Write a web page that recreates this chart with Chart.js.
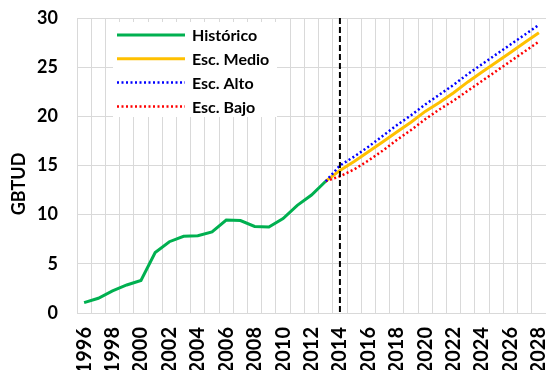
<!DOCTYPE html>
<html>
<head>
<meta charset="utf-8">
<script src="https://cdn.jsdelivr.net/npm/chart.js@4"></script>
<style>
  html, body { margin: 0; padding: 0; background: #fff; }
  #wrap { width: 546px; height: 370px; }
</style>
</head>
<body>
<div id="wrap"><canvas id="chart" width="546" height="370"></canvas></div>
<script>
// years on the category axis
const years = [];
for (let y = 1996; y <= 2028; y++) years.push(String(y));

// GBTUD
const historico = [1.05, 1.5, 2.25, 2.85, 3.3, 6.15, 7.25, 7.8, 7.85, 8.25, 9.45, 9.4, 8.8, 8.75, 9.6, 10.95, 12.0, 13.4];
const escMedio = [13.4, 14.5, 15.4, 16.4, 17.4, 18.4, 19.4, 20.5, 21.4, 22.4, 23.5, 24.5, 25.5, 26.5, 27.5, 28.5];
const escAlto  = [13.4, 15.0, 15.9, 16.9, 18.0, 19.1, 20.1, 21.2, 22.2, 23.2, 24.3, 25.3, 26.3, 27.3, 28.3, 29.3];
const escBajo  = [13.4, 13.9, 14.6, 15.5, 16.5, 17.6, 18.6, 19.7, 20.7, 21.6, 22.6, 23.6, 24.6, 25.6, 26.6, 27.6];
const yTicks = [0, 5, 10, 15, 20, 25, 30];
const markerYear = "2014";
const yTitle = "GBTUD";

// pad scenario series with nulls before 2013
function fromYear(start, vals) {
  const out = years.map(() => null);
  const i0 = years.indexOf(String(start));
  vals.forEach((v, i) => { out[i0 + i] = v; });
  return out;
}

const FONT = "Lato, 'Open Sans', sans-serif";

const legendItems = [
  { label: "Histórico", color: "#00B050", dash: [] , width: 3 },
  { label: "Esc. Medio", color: "#FFC000", dash: [], width: 3 },
  { label: "Esc. Alto", color: "#0000FF", dash: [2, 2.5], width: 2.5 },
  { label: "Esc. Bajo", color: "#FF0000", dash: [2, 2.5], width: 2.5 },
];

// no automatic padding, the plot area is fixed by hand
function noPad(scale) {
  scale.paddingTop = 0;
  scale.paddingBottom = 0;
  scale.paddingLeft = 0;
  scale.paddingRight = 0;
}

// dashed vertical line at 2014, axis title, in-plot legend box
const extras = {
  id: "extras",
  afterDatasetsDraw(chart) {
    const ctx = chart.ctx;
    const area = chart.chartArea;
    const x = chart.scales.x.getPixelForValue(years.indexOf(markerYear));
    ctx.save();
    ctx.strokeStyle = "#000";
    ctx.lineWidth = 2;
    ctx.setLineDash([6, 3]);
    ctx.beginPath();
    ctx.moveTo(x, area.top);
    ctx.lineTo(x, area.bottom);
    ctx.stroke();
    ctx.restore();
  },
  afterDraw(chart) {
    const ctx = chart.ctx;
    ctx.save();
    // y title sits a bit below the middle, as in the original
    ctx.translate(19, 184);
    ctx.rotate(-Math.PI / 2);
    ctx.font = "bold 18px " + FONT;
    ctx.fillStyle = "#000";
    ctx.textAlign = "center";
    ctx.textBaseline = "middle";
    ctx.fillText(yTitle, 0, 0);
    ctx.restore();

    ctx.save();
    ctx.fillStyle = "#fff";
    ctx.fillRect(113, 22, 164, 95);
    ctx.font = "bold 16px " + FONT;
    ctx.textBaseline = "middle";
    ctx.textAlign = "left";
    legendItems.forEach((it, i) => {
      const y = 35 + i * 23.8;
      ctx.strokeStyle = it.color;
      ctx.lineWidth = it.width;
      ctx.setLineDash(it.dash);
      ctx.beginPath();
      ctx.moveTo(117, y);
      ctx.lineTo(185, y);
      ctx.stroke();
      ctx.fillStyle = "#000";
      ctx.fillText(it.label, 192, y + 1);
    });
    ctx.restore();
  }
};

new Chart(document.getElementById("chart"), {
  type: "line",
  data: {
    labels: years,
    datasets: [
      { label: "Esc. Alto", data: fromYear(2013, escAlto), borderColor: "#0000FF", borderWidth: 2.5, borderDash: [2, 2.5] },
      { label: "Esc. Bajo", data: fromYear(2013, escBajo), borderColor: "#FF0000", borderWidth: 2.5, borderDash: [2, 2.5] },
      { label: "Esc. Medio", data: fromYear(2013, escMedio), borderColor: "#FFC000", borderWidth: 3 },
      { label: "Histórico", data: historico, borderColor: "#00B050", borderWidth: 3 },
    ].map(d => Object.assign({ pointRadius: 0, tension: 0, fill: false, spanGaps: false }, d)),
  },
  options: {
    responsive: false,
    animation: false,
    layout: { padding: { top: 18, right: 0, left: 0, bottom: 0 } },
    plugins: { legend: { display: false }, tooltip: { enabled: false } },
    scales: {
      x: {
        type: "category",
        offset: true,
        grid: { offset: true, color: "#d9d9d9", lineWidth: 1, drawTicks: false },
        border: { color: "#d9d9d9" },
        ticks: {
          autoSkip: false,
          minRotation: 90,
          maxRotation: 90,
          padding: 14,
          color: "#000",
          font: { family: FONT, size: 20, weight: "bold" },
          callback: function (v, i) { return i % 2 === 0 ? years[i] : ""; },
        },
        afterFit(scale) { scale.height = 57; noPad(scale); },
      },
      y: {
        min: 0,
        max: 30,
        grid: { color: "#d9d9d9", lineWidth: 1, drawTicks: false },
        border: { display: false },
        afterBuildTicks(scale) { scale.ticks = yTicks.map(v => ({ value: v })); },
        ticks: {
          padding: 19,
          color: "#000",
          font: { family: FONT, size: 18, weight: "bold" },
        },
        afterFit(scale) { scale.width = 77; noPad(scale); },
      },
    },
  },
  plugins: [extras],
});
</script>
</body>
</html>
